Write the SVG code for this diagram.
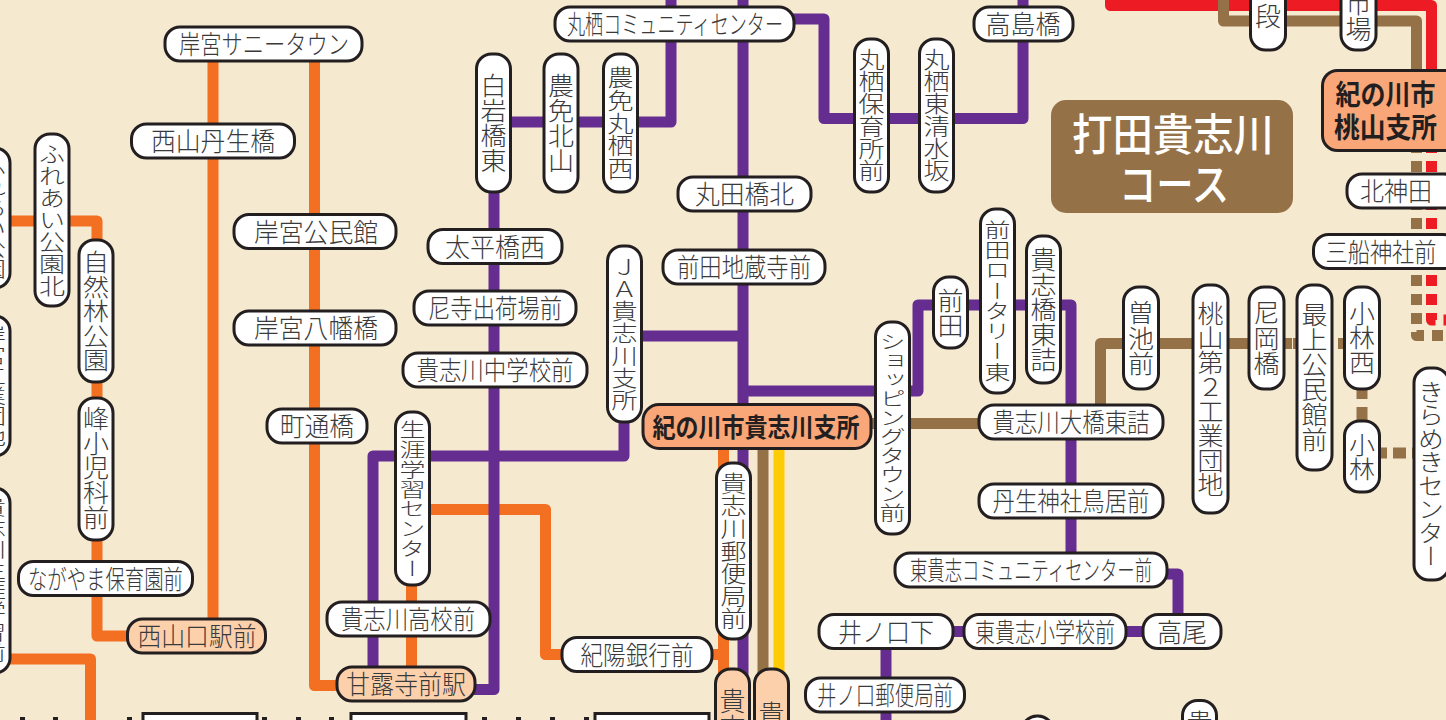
<svg xmlns="http://www.w3.org/2000/svg" width="1446" height="720" viewBox="0 0 1446 720">
<style>
text{font-family:"Noto Sans CJK JP","Noto Sans",sans-serif;font-size:26px;fill:#3a3a3a;font-weight:300;text-anchor:middle}
.h{dominant-baseline:central;transform:translateY(-2px)}
.v{writing-mode:vertical-rl}
.b{font-weight:700;fill:#231f20}
.w{fill:#fff;font-size:44px;font-weight:500;dominant-baseline:central;transform:translateY(-3px)}
.c{fill:none;stroke-width:11;stroke-linejoin:round}
.o{stroke:#f36f21}.u{stroke:#662d91}.r{stroke:#957148}.y{stroke:#ffcb05}.e{stroke:#ed1c24}
.d{stroke-dasharray:11 8}
rect.p{fill:#fff;stroke:#231f20;stroke-width:3}
rect.s{fill:#fdd0ac;stroke:#231f20;stroke-width:3}
rect.m{fill:#f9a678;stroke:#231f20;stroke-width:3}
</style>
<rect width="1446" height="720" fill="#f5e9d0"/>
<g id="connectors">
<path class="c o" d="M213 45V630"/>
<path class="c o" d="M314.500 45V685.500H345"/>
<path class="c o" d="M0 221H97V636H135"/>
<path class="c o" d="M0 659H90.500V720"/>
<path class="c o" d="M411.500 570V675"/>
<path class="c o" d="M425 509.500H545.500V654.500H723.500"/>
<path class="c o" d="M723.500 440V680"/>
<path class="c u" d="M743 0V680"/>
<path class="c u" d="M671 0V122H490"/>
<path class="c u" d="M780 19H824V118.500H1023V0"/>
<path class="c u" d="M494 185V689.500H465"/>
<path class="c u" d="M373 675V456H624V410"/>
<path class="c u" d="M630 336H743"/>
<path class="c u" d="M743 391H918V305H1071V560"/>
<path class="c u" d="M1160 574H1178V620"/>
<path class="c u" d="M945 631.500H1150"/>
<path class="c u" d="M886 640V720"/>
<path class="c r" d="M763 440V680"/>
<path class="c y" d="M779 440V680"/>
<path class="c r" d="M860 423.500H985"/>
<path class="c r" d="M1100.500 410V343.500H1284"/>
<path class="c r" d="M1284 343.500H1292M1293 343.500H1297M1338 343.500H1346"/>
<path class="c r" d="M1362 389V399M1362 407V421"/>
<path class="c r" d="M1379 453H1387M1393 453H1406M1412 453H1416"/>
<path class="c e" d="M1110.500 -6V5.500H1431.500V153"/>
<path class="c r" d="M1223.500 0V21H1416.500V152"/>
<path class="c r d" d="M1416.500 142V335.500H1446"/>
<path class="c e d" d="M1431.500 142V320H1446"/>
<path fill="#231f20" d="M20 717h5v3h-5zM53 717h5v3h-5zM127 717h5v3h-5zM262 717h5v3h-5zM296 717h5v3h-5zM329 717h5v3h-5zM482 717h5v3h-5zM516 717h5v3h-5zM550 717h5v3h-5zM584 717h5v3h-5z"/>
</g>
<g id="bottom-boxes">
<rect class="p" x="143" y="713.500" width="114" height="20"/>
<rect class="p" x="351" y="713.500" width="115" height="20"/>
<rect class="p" x="595" y="713.500" width="114" height="20"/>
</g>
<g id="course-label"><rect x="1051" y="100" width="242" height="113" rx="15" fill="#957148"/><text class="w" x="1173" y="135" textLength="202" lengthAdjust="spacingAndGlyphs">打田貴志川</text><text class="w" x="1174" y="185" textLength="110" lengthAdjust="spacingAndGlyphs">コース</text></g>
<g id="n1"><rect class="p" x="165" y="27" width="197" height="34" rx="15"/><text class="h" x="264" y="44" textLength="170" lengthAdjust="spacingAndGlyphs">岸宮サニータウン</text></g>
<g id="n2"><rect class="p" x="131.500" y="124" width="163" height="34" rx="15"/><text class="h" x="213" y="141" textLength="124" lengthAdjust="spacingAndGlyphs">西山丹生橋</text></g>
<g id="n3"><rect class="p" x="234" y="214.500" width="162" height="34" rx="15"/><text class="h" x="316" y="232" textLength="124" lengthAdjust="spacingAndGlyphs">岸宮公民館</text></g>
<g id="n4"><rect class="p" x="234" y="311" width="162" height="34" rx="15"/><text class="h" x="316" y="328" textLength="124" lengthAdjust="spacingAndGlyphs">岸宮八幡橋</text></g>
<g id="n5"><rect class="p" x="267" y="409" width="100" height="34" rx="15"/><text class="h" x="317" y="426" textLength="74" lengthAdjust="spacingAndGlyphs">町通橋</text></g>
<g id="n6"><rect class="p" x="974" y="7" width="99" height="34" rx="15"/><text class="h" x="1023" y="24" textLength="75" lengthAdjust="spacingAndGlyphs">高島橋</text></g>
<g id="n7"><rect class="p" x="555" y="7" width="239" height="34" rx="15"/><text class="h" x="675" y="24" textLength="216" lengthAdjust="spacingAndGlyphs">丸栖コミュニティセンター</text></g>
<g id="n8"><rect class="p" x="678" y="177" width="133" height="34" rx="15"/><text class="h" x="744.500" y="194" textLength="99" lengthAdjust="spacingAndGlyphs">丸田橋北</text></g>
<g id="n9"><rect class="p" x="428" y="229.500" width="134" height="34" rx="15"/><text class="h" x="495" y="247" textLength="100" lengthAdjust="spacingAndGlyphs">太平橋西</text></g>
<g id="n10"><rect class="p" x="663" y="250" width="162" height="34" rx="15"/><text class="h" x="744" y="267" textLength="134" lengthAdjust="spacingAndGlyphs">前田地蔵寺前</text></g>
<g id="n11"><rect class="p" x="414" y="291" width="162" height="34" rx="15"/><text class="h" x="495" y="308" textLength="134" lengthAdjust="spacingAndGlyphs">尼寺出荷場前</text></g>
<g id="n12"><rect class="p" x="403" y="353" width="184" height="34" rx="15"/><text class="h" x="495" y="370" textLength="157" lengthAdjust="spacingAndGlyphs">貴志川中学校前</text></g>
<g id="n13"><rect class="m" x="643" y="404.500" width="228" height="44" rx="16"/><text class="h b" x="756" y="427" textLength="207" lengthAdjust="spacingAndGlyphs">紀の川市貴志川支所</text></g>
<g id="n14"><rect class="p" x="979" y="405" width="184" height="34" rx="15"/><text class="h" x="1071" y="422" textLength="157" lengthAdjust="spacingAndGlyphs">貴志川大橋東詰</text></g>
<g id="n15"><rect class="p" x="979" y="484" width="184" height="34" rx="15"/><text class="h" x="1071" y="501" textLength="157" lengthAdjust="spacingAndGlyphs">丹生神社鳥居前</text></g>
<g id="n16"><rect class="p" x="895" y="553" width="272" height="34" rx="15"/><text class="h" x="1031" y="570" textLength="242" lengthAdjust="spacingAndGlyphs">東貴志コミュニティセンター前</text></g>
<g id="n17"><rect class="p" x="819" y="614.500" width="134" height="34" rx="15"/><text class="h" x="886" y="632" textLength="96" lengthAdjust="spacingAndGlyphs">井ノ口下</text></g>
<g id="n18"><rect class="p" x="964" y="614.500" width="162" height="34" rx="15"/><text class="h" x="1045" y="632" textLength="140" lengthAdjust="spacingAndGlyphs">東貴志小学校前</text></g>
<g id="n19"><rect class="p" x="1143" y="614.500" width="78" height="34" rx="15"/><text class="h" x="1182" y="632" textLength="50" lengthAdjust="spacingAndGlyphs">高尾</text></g>
<g id="n20"><rect class="p" x="805.500" y="678" width="159" height="34" rx="15"/><text class="h" x="885" y="695" textLength="136" lengthAdjust="spacingAndGlyphs">井ノ口郵便局前</text></g>
<g id="n21"><rect class="p" x="327" y="602" width="163" height="34" rx="15"/><text class="h" x="408" y="619" textLength="134" lengthAdjust="spacingAndGlyphs">貴志川高校前</text></g>
<g id="n22"><rect class="s" x="337" y="667" width="138" height="34" rx="15"/><text class="h" x="406" y="684" textLength="120" lengthAdjust="spacingAndGlyphs">甘露寺前駅</text></g>
<g id="n23"><rect class="p" x="562" y="637.500" width="150" height="34" rx="15"/><text class="h" x="637" y="655" textLength="113" lengthAdjust="spacingAndGlyphs">紀陽銀行前</text></g>
<g id="n24"><rect class="s" x="127.500" y="619" width="138" height="34" rx="15"/><text class="h" x="197" y="636" textLength="119" lengthAdjust="spacingAndGlyphs">西山口駅前</text></g>
<g id="n25"><rect class="p" x="18.500" y="561.500" width="174" height="34" rx="15"/><text class="h" x="105.500" y="579" textLength="155" lengthAdjust="spacingAndGlyphs">ながやま保育園前</text></g>
<g id="n26"><rect class="p" x="1347" y="174" width="112" height="34" rx="15"/><text class="h" x="1396" y="191" textLength="72" lengthAdjust="spacingAndGlyphs">北神田</text></g>
<g id="n27"><rect class="p" x="1313.500" y="234.500" width="145" height="34" rx="15"/><text class="h" x="1381" y="252" textLength="111" lengthAdjust="spacingAndGlyphs">三船神社前</text></g>
<g id="n28"><rect class="m" x="1322.500" y="70.500" width="140" height="80" rx="15"/><text class="h b" x="1385.500" y="95" style="font-size:28px" textLength="100" lengthAdjust="spacingAndGlyphs">紀の川市</text><text class="h b" x="1385.500" y="128" style="font-size:28px" textLength="103" lengthAdjust="spacingAndGlyphs">桃山支所</text></g>
<g id="n29"><rect class="p" x="35" y="134" width="34" height="172" rx="15"/><text class="v" x="52" y="220" textLength="154" lengthAdjust="spacingAndGlyphs">ふれあい公園北</text></g>
<g id="n30"><rect class="p" x="79" y="240" width="34" height="142" rx="15"/><text class="v" x="96" y="311" textLength="122" lengthAdjust="spacingAndGlyphs">自然林公園</text></g>
<g id="n31"><rect class="p" x="79" y="398" width="34" height="142" rx="15"/><text class="v" x="96" y="468" textLength="124" lengthAdjust="spacingAndGlyphs">峰小児科前</text></g>
<g id="n32"><rect class="p" x="-24" y="148" width="34" height="140" rx="15"/><text class="v" x="-7" y="218" textLength="122" lengthAdjust="spacingAndGlyphs">ふれあい公園</text></g>
<g id="n33"><rect class="p" x="-24" y="316" width="34" height="140" rx="15"/><text class="v" x="-7" y="386" textLength="122" lengthAdjust="spacingAndGlyphs">岸宮工業団地</text></g>
<g id="n34"><rect class="p" x="-24" y="488" width="34" height="185" rx="15"/><text class="v" x="-7" y="580" textLength="166" lengthAdjust="spacingAndGlyphs">貴志川生涯学習前</text></g>
<g id="n35"><rect class="p" x="476.500" y="54" width="34" height="138" rx="15"/><text class="v" x="493.500" y="123" textLength="100" lengthAdjust="spacingAndGlyphs">白岩橋東</text></g>
<g id="n36"><rect class="p" x="544" y="54" width="34" height="138" rx="15"/><text class="v" x="561" y="123" textLength="100" lengthAdjust="spacingAndGlyphs">農免北山</text></g>
<g id="n37"><rect class="p" x="603.500" y="54" width="34" height="138" rx="15"/><text class="v" x="620.500" y="123" textLength="114" lengthAdjust="spacingAndGlyphs">農免丸栖西</text></g>
<g id="n38"><rect class="p" x="854.500" y="39" width="34" height="153" rx="15"/><text class="v" x="871.500" y="115" textLength="134" lengthAdjust="spacingAndGlyphs">丸栖保育所前</text></g>
<g id="n39"><rect class="p" x="919.500" y="39" width="34" height="153" rx="15"/><text class="v" x="936.500" y="115" textLength="134" lengthAdjust="spacingAndGlyphs">丸栖東清水坂</text></g>
<g id="n40"><rect class="p" x="607.500" y="246" width="34" height="176" rx="15"/><text class="v" x="624.500" y="333" textLength="155" lengthAdjust="spacingAndGlyphs">ＪＡ貴志川支所</text></g>
<g id="n41"><rect class="p" x="395.500" y="412" width="34" height="173" rx="15"/><text class="v" x="412.500" y="499" textLength="158" lengthAdjust="spacingAndGlyphs">生涯学習センター</text></g>
<g id="n42"><rect class="p" x="875.500" y="322" width="34" height="212" rx="15"/><text class="v" x="892.500" y="427" textLength="190" lengthAdjust="spacingAndGlyphs">ショッピングタウン前</text></g>
<g id="n43"><rect class="p" x="933.500" y="277" width="34" height="71" rx="15"/><text class="v" x="950.500" y="313" textLength="50" lengthAdjust="spacingAndGlyphs">前田</text></g>
<g id="n44"><rect class="p" x="980.500" y="209" width="34" height="184" rx="15"/><text class="v" x="997.500" y="301" textLength="162" lengthAdjust="spacingAndGlyphs">前田ロータリー東</text></g>
<g id="n45"><rect class="p" x="1026.500" y="236" width="34" height="147" rx="15"/><text class="v" x="1043.500" y="309.500" textLength="125" lengthAdjust="spacingAndGlyphs">貴志橋東詰</text></g>
<g id="n46"><rect class="p" x="716.500" y="463" width="34" height="176" rx="15"/><text class="v" x="733.500" y="551" textLength="158" lengthAdjust="spacingAndGlyphs">貴志川郵便局前</text></g>
<g id="n47"><rect class="s" x="715.500" y="669" width="34" height="80" rx="15"/><text class="v" x="732.500" y="688" style="text-anchor:start">貴志</text></g>
<g id="n48"><rect class="s" x="754.500" y="669" width="34" height="80" rx="15"/><text class="v" x="771.500" y="701" style="text-anchor:start">貴</text></g>
<g id="n49"><rect class="p" x="1123.500" y="287" width="35" height="102" rx="15"/><text class="v" x="1141" y="338" textLength="76" lengthAdjust="spacingAndGlyphs">曽池前</text></g>
<g id="n50"><rect class="p" x="1193" y="285" width="35" height="228" rx="15"/><text class="v" x="1210.500" y="399" textLength="196" lengthAdjust="spacingAndGlyphs">桃山第２工業団地</text></g>
<g id="n51"><rect class="p" x="1249" y="287" width="35" height="102" rx="15"/><text class="v" x="1266.500" y="338" textLength="76" lengthAdjust="spacingAndGlyphs">尼岡橋</text></g>
<g id="n52"><rect class="p" x="1297" y="285" width="35" height="185" rx="15"/><text class="v" x="1314.500" y="377" textLength="150" lengthAdjust="spacingAndGlyphs">最上公民館前</text></g>
<g id="n53"><rect class="p" x="1344.500" y="287" width="35" height="102" rx="15"/><text class="v" x="1362" y="338" textLength="74" lengthAdjust="spacingAndGlyphs">小林西</text></g>
<g id="n54"><rect class="p" x="1344.500" y="421" width="35" height="71" rx="15"/><text class="v" x="1362" y="457" textLength="48" lengthAdjust="spacingAndGlyphs">小林</text></g>
<g id="n55"><rect class="p" x="1414" y="368" width="35" height="212" rx="15"/><text class="v" x="1431" y="474" textLength="188" lengthAdjust="spacingAndGlyphs">きらめきセンター</text></g>
<g id="n56"><rect class="p" x="1250.500" y="-40" width="35" height="90" rx="15"/><text class="v" x="1268" y="3" style="text-anchor:start">段</text></g>
<g id="n57"><rect class="p" x="1341" y="-40" width="35" height="90" rx="15"/><text class="v" x="1358.500" y="-10" style="text-anchor:start">市場</text></g>
<g id="n58"><rect class="p" x="1182.500" y="700.500" width="34" height="60" rx="15"/><text class="v" x="1199.500" y="710" style="text-anchor:start">貴</text></g>
<g id="n59"><rect class="p" x="1022" y="716" width="31" height="60" rx="15"/></g>
</svg>
